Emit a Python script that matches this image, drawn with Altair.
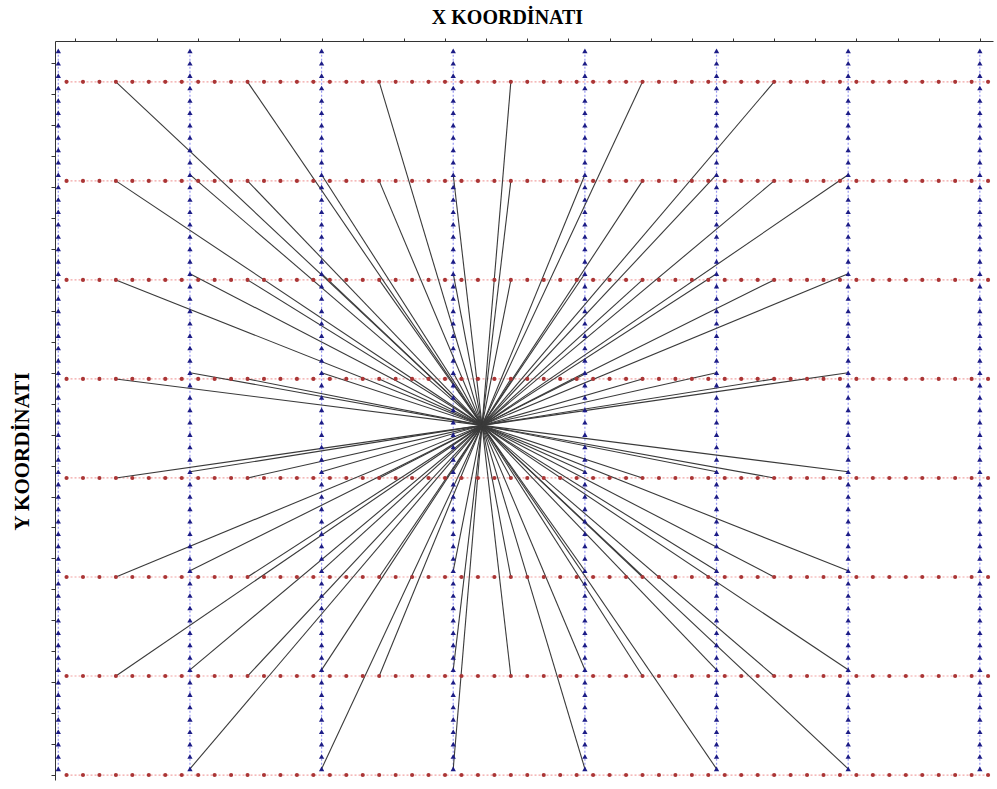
import altair as alt
import pandas as pd

# Survey geometry (metres)
RECEIVER_LINE_X = [30, 190, 350, 510, 670, 830, 990, 1150]
SOURCE_LINE_Y = [1120, 960, 800, 640, 480, 320, 160, 0]

# Station extents along the lines and group interval
RECEIVER_Y_FIRST, RECEIVER_Y_LAST = 10, 1170
SOURCE_X_FIRST, SOURCE_X_LAST = 40, 1160
STATION_INTERVAL = 20

# Source / receiver pairs that share the common midpoint bin
SHOT_X = [900, 740, 580, 420, 260, 100]
RECV_X = [190, 350, 510, 670, 830, 990]
SHOT_Y = [1120, 960, 800, 640, 480, 320, 160]
RECV_Y = [10, 170, 330, 490, 650, 810, 970]

# Axis tick positions (no labels drawn)
X_TICKS = list(range(50, 1151, 50))
Y_TICKS = list(range(0, 1151, 50))

X_DOMAIN = [26, 1166]
Y_DOMAIN = [-8, 1186]

receivers = pd.DataFrame(
    [(x, y) for x in RECEIVER_LINE_X
     for y in range(RECEIVER_Y_FIRST, RECEIVER_Y_LAST + 1, STATION_INTERVAL)],
    columns=["x", "y"],
)
sources = pd.DataFrame(
    [(x, y) for y in SOURCE_LINE_Y
     for x in range(SOURCE_X_FIRST, SOURCE_X_LAST + 1, STATION_INTERVAL)],
    columns=["x", "y"],
)
receiver_lines = pd.DataFrame(
    {"x": RECEIVER_LINE_X, "y": RECEIVER_Y_FIRST, "y2": RECEIVER_Y_LAST}
)
source_lines = pd.DataFrame(
    {"y": SOURCE_LINE_Y, "x": SOURCE_X_FIRST, "x2": SOURCE_X_LAST}
)
rays = pd.DataFrame(
    [
        {"sx": sx, "sy": sy, "rx": rx, "ry": ry}
        for sx, rx in zip(SHOT_X, RECV_X)
        for sy, ry in zip(SHOT_Y, RECV_Y)
    ]
)

title_font = "Liberation Serif"

x_axis = alt.Axis(
    orient="top", title="X KOORDİNATI", labels=False, values=X_TICKS,
    grid=False, tickSize=3, tickColor="#333333", domainColor="#333333",
    titleFont=title_font, titleFontSize=20, titleFontWeight="bold",
    titleColor="#000000", titleX=452, titleY=-18,
    titleAlign="center", titleBaseline="alphabetic",
)
y_axis = alt.Axis(
    orient="left", title="Y KOORDİNATI", labels=False, values=Y_TICKS,
    grid=False, tickSize=4, tickColor="#333333", domainColor="#333333",
    titleFont=title_font, titleFontSize=21, titleFontWeight="bold",
    titleColor="#000000", titleX=-27, titleY=410, titleAngle=-90,
    titleAlign="center", titleBaseline="alphabetic",
)

x_scale = alt.Scale(domain=X_DOMAIN, nice=False, zero=False)
y_scale = alt.Scale(domain=Y_DOMAIN, nice=False, zero=False)


def X(field):
    return alt.X(field, type="quantitative", scale=x_scale, axis=x_axis)


def Y(field):
    return alt.Y(field, type="quantitative", scale=y_scale, axis=y_axis)


recv_line_layer = alt.Chart(receiver_lines).mark_rule(
    color="#9a9af2", strokeWidth=1.2, strokeDash=[2, 2]
).encode(x=X("x"), y=Y("y"), y2="y2")

src_line_layer = alt.Chart(source_lines).mark_rule(
    color="#f2a4a4", strokeWidth=1.2, strokeDash=[2, 2]
).encode(y=Y("y"), x=X("x"), x2="x2")

ray_layer = alt.Chart(rays).mark_rule(
    color="#3a3a3a", strokeWidth=1.1
).encode(x=X("sx"), y=Y("sy"), x2="rx", y2="ry")

src_layer = alt.Chart(sources).mark_point(
    shape="circle", filled=True, size=17, color="#aa3535", opacity=1
).encode(x=X("x"), y=Y("y"))

recv_layer = alt.Chart(receivers).mark_point(
    shape="triangle-up", filled=True, size=28, color="#1c1c86", opacity=1
).encode(x=X("x"), y=Y("y"))

chart = (
    alt.layer(recv_line_layer, src_line_layer, ray_layer, src_layer, recv_layer)
    .properties(
        width=938,
        height=739,
        autosize=alt.AutoSizeParams(type="none"),
        padding={"left": 55, "top": 41, "right": 4, "bottom": 9},
        background="#ffffff",
    )
    .configure_view(stroke=None)
)

chart.save("out.html", embed_options={"renderer": "svg", "actions": False})
